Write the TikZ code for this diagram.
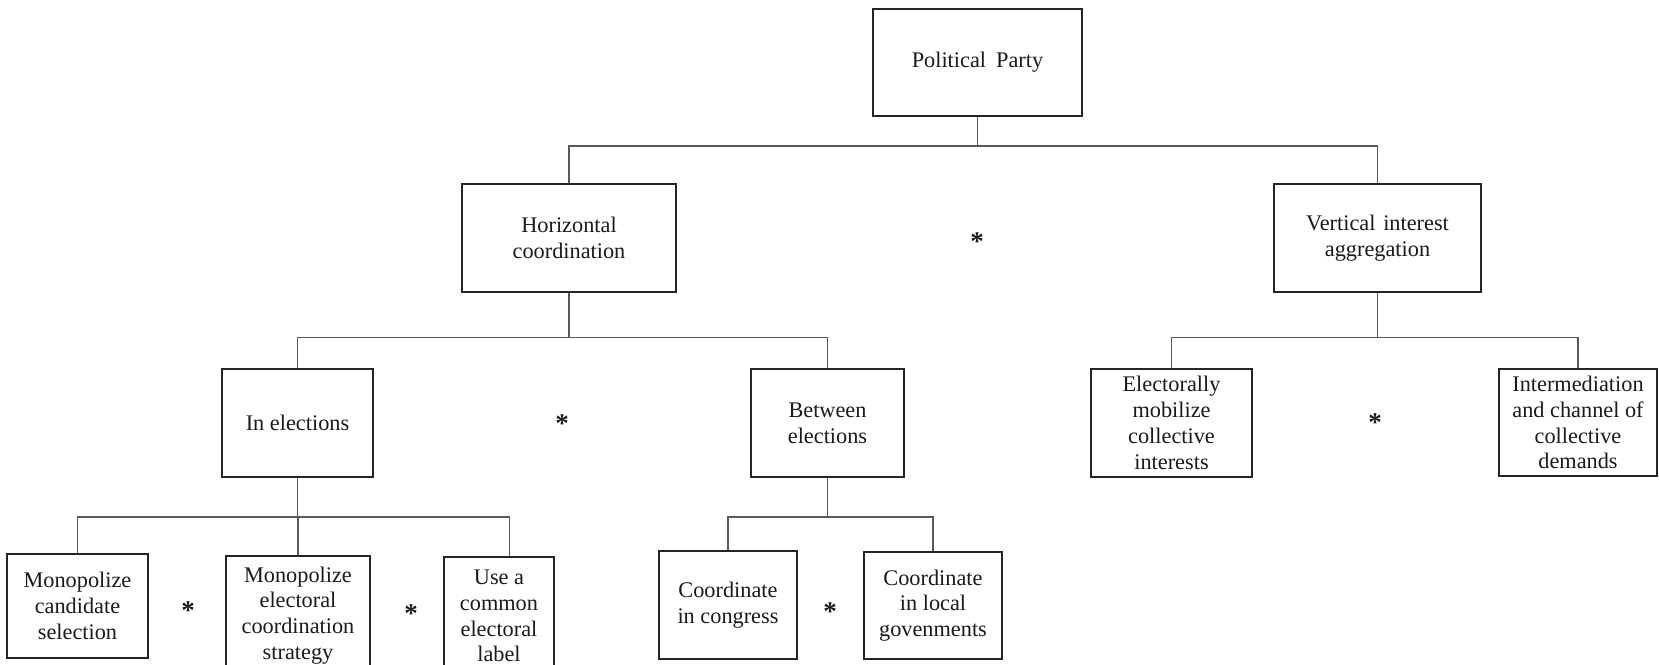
\documentclass[tikz,border=0pt]{standalone}
\usepackage{fontspec}
\setmainfont{Liberation Serif}
\definecolor{boxline}{HTML}{252525}
\definecolor{connline}{HTML}{5A5A5A}
\definecolor{txt}{HTML}{1A1A1A}
\tikzset{
  box/.style={draw=boxline, line width=2.4pt, rectangle, align=center, inner sep=0pt,
    text=txt, font=\fontsize{22.3pt}{25.8pt}\selectfont},
  conn/.style={draw=connline, line width=1.3pt},
  star/.style={text=txt, inner sep=0pt, anchor=base, font=\bfseries\fontsize{27pt}{27pt}\selectfont}
}
\begin{document}
\begin{tikzpicture}[x=1pt,y=-1pt]
\useasboundingbox (0,0) rectangle (1659,664);
\clip (0,0) rectangle (1659,664);
\fill[white] (0,0) rectangle (1659,664);

% level 1
\node[box, minimum width=209pt, minimum height=107pt] (party) at (977.5,62.5) {Political\hspace{0.45em}Party};
% level 2
\node[box, minimum width=214pt, minimum height=108pt] (horiz) at (569,238) {Horizontal\\coordination};
\node[box, minimum width=207pt, minimum height=108pt] (vert) at (1377.5,238) {Vertical\hspace{0.35em}interest\\aggregation};
% level 3
\node[box, minimum width=151pt, minimum height=108pt] (inel) at (297.5,423) {In elections};
\node[box, minimum width=153pt, minimum height=108pt] (betw) at (827.5,423) {Between\\elections};
\node[box, minimum width=161pt, minimum height=108pt] (elec) at (1171.5,423) {Electorally\\mobilize\\collective\\interests};
\node[box, minimum width=158pt, minimum height=107pt] (inter) at (1578,422.5) {Intermediation\\and channel of\\collective\\demands};
% level 4
\node[box, minimum width=141pt, minimum height=104pt] (cand) at (77.5,606) {Monopolize\\candidate\\selection};
\node[box, minimum width=144pt, minimum height=119pt] (strat) at (298,615.5) {Monopolize\\electoral\\coordination\\strategy};
\node[box, minimum width=110pt, minimum height=118pt] (label) at (499,616) {Use a\\common\\electoral\\label};
\node[box, minimum width=138pt, minimum height=108pt] (congr) at (728,605) {Coordinate\\in congress};
\node[box, minimum width=138pt, minimum height=107pt] (local) at (933,605.5) {Coordinate\\in local\\govenments};

% stars
\node[star] (s1) at (977,250) {*};
\node[star] (s2) at (562,432) {*};
\node[star] (s3) at (1375,431) {*};
\node[star] (s4) at (188,619) {*};
\node[star] (s5) at (411,622) {*};
\node[star] (s6) at (830,620) {*};

% bar coordinates
\coordinate (bar1) at (0,146);
\coordinate (bar2) at (0,337.5);
\coordinate (bar3) at (0,517);
\coordinate (labtop) at (509.6,0);

% connectors
\draw[conn] (party.south) -- (party.south |- bar1);
\draw[conn] (horiz.north) -- (horiz.north |- bar1) -- (vert.north |- bar1) -- (vert.north);

\draw[conn] (horiz.south) -- (horiz.south |- bar2);
\draw[conn] (inel.north) -- (inel.north |- bar2) -- (betw.north |- bar2) -- (betw.north);

\draw[conn] (vert.south) -- (vert.south |- bar2);
\draw[conn] (elec.north) -- (elec.north |- bar2) -- (inter.north |- bar2) -- (inter.north);

\draw[conn] (inel.south) -- (inel.south |- bar3);
\draw[conn] (cand.north) -- (cand.north |- bar3) -- (labtop |- bar3) -- (labtop |- label.north);
\draw[conn] (strat.north) -- (strat.north |- bar3);

\draw[conn] (betw.south) -- (betw.south |- bar3);
\draw[conn] (congr.north) -- (congr.north |- bar3) -- (local.north |- bar3) -- (local.north);
\end{tikzpicture}
\end{document}
